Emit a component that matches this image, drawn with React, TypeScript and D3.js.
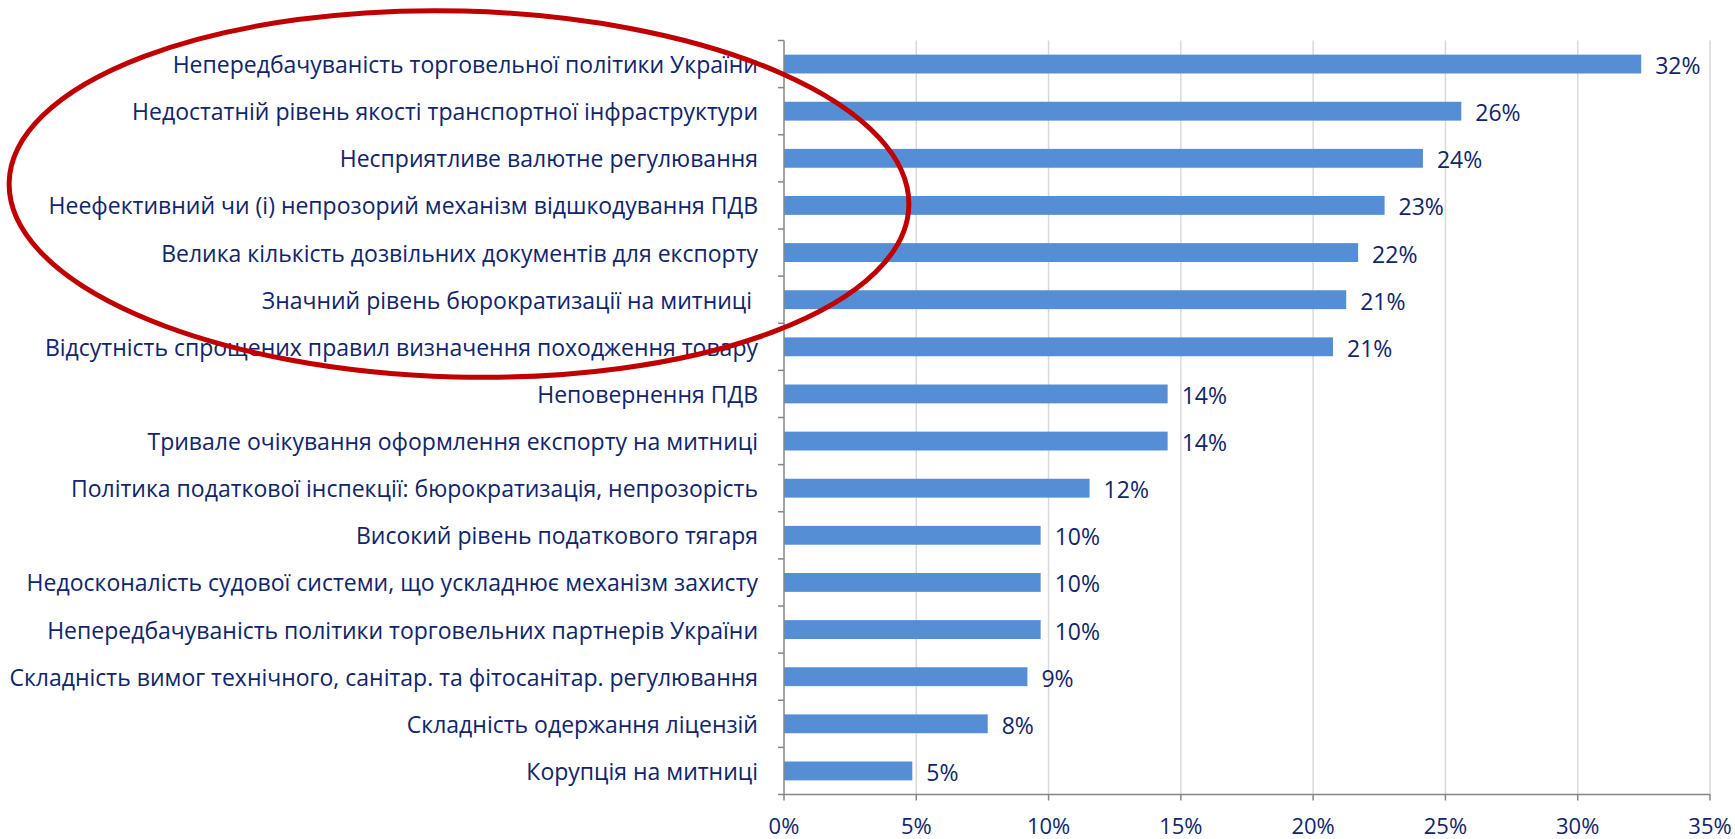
import React from "react";
import * as d3 from "d3";

const categories = [
  "Непередбачуваність торговельної політики України",
  "Недостатній рівень якості транспортної інфраструктури",
  "Несприятливе валютне регулювання",
  "Неефективний чи (і) непрозорий механізм відшкодування ПДВ",
  "Велика кількість дозвільних документів для експорту",
  "Значний рівень бюрократизації на митниці ",
  "Відсутність спрощених правил визначення походження товару",
  "Неповернення ПДВ",
  "Тривале очікування оформлення експорту на митниці",
  "Політика податкової інспекції: бюрократизація, непрозорість",
  "Високий рівень податкового тягаря",
  "Недосконаліcть судової системи, що ускладнює механізм захисту",
  "Непередбачуваність політики торговельних партнерів України",
  "Складність вимог технічного, санітар. та фітосанітар. регулювання",
  "Складність одержання ліцензій",
  "Корупція на митниці",
];

const values = [32.4, 25.6, 24.15, 22.7, 21.7, 21.25, 20.75, 14.5, 14.5, 11.55, 9.7, 9.7, 9.7, 9.2, 7.7, 4.85];

const valueLabels = ["32%", "26%", "24%", "23%", "22%", "21%", "21%", "14%", "14%", "12%", "10%", "10%", "10%", "9%", "8%", "5%"];

const xTicks = [0, 5, 10, 15, 20, 25, 30, 35];

const W = 1735;
const H = 839;
const TEXT = "#10256b";
const FONT = "'Liberation Sans Narrow', 'Open Sans', 'Noto Sans', sans-serif";

export default function App() {
  const x = d3.scaleLinear().domain([0, 35]).range([784, 1710]);
  const y = d3.scaleBand<string>().domain(categories).range([40.5, 794.5]).paddingInner(0.6).paddingOuter(0.3);
  const step = y.step();
  const top = 40.5;
  const bottom = 794.5;
  const boundaries = d3.range(categories.length + 1).map((i) => top + i * step);

  return (
    <svg width={W} height={H} style={{ position: "absolute", left: 0, top: 0, background: "#fff" }} fontFamily={FONT}>
      {xTicks.slice(1).map((t) => (
        <line key={"g" + t} x1={x(t)} x2={x(t)} y1={top} y2={bottom} stroke="#d9d9d9" strokeWidth={1.5} />
      ))}
      {values.map((v, i) => (
        <rect key={"b" + i} x={x(0)} y={y(categories[i])!} width={x(v) - x(0)} height={y.bandwidth()} fill="#558ed5" />
      ))}
      {values.map((v, i) => (
        <text key={"v" + i} x={x(v) + 14} y={y(categories[i])! + y.bandwidth() / 2 + 1} dominantBaseline="central" fontSize={23} fill={TEXT}>
          {valueLabels[i]}
        </text>
      ))}
      {categories.map((c, i) => (
        <text key={"c" + i} x={758} y={y(c)! + y.bandwidth() / 2} dominantBaseline="central" textAnchor="end" fontSize={23} fill={TEXT} style={{ whiteSpace: "pre" }}>
          {c}
        </text>
      ))}
      <line x1={x(0)} x2={x(0)} y1={top} y2={bottom} stroke="#868686" strokeWidth={1.5} />
      {boundaries.map((b, i) => (
        <line key={"yt" + i} x1={x(0) - 6} x2={x(0)} y1={b} y2={b} stroke="#868686" strokeWidth={1.5} />
      ))}
      <line x1={x(0)} x2={x(35)} y1={bottom} y2={bottom} stroke="#868686" strokeWidth={1.5} />
      {xTicks.map((t) => (
        <g key={"xt" + t}>
          <line x1={x(t)} x2={x(t)} y1={bottom} y2={bottom + 6} stroke="#868686" strokeWidth={1.5} />
          <text x={x(t)} y={825} textAnchor="middle" dominantBaseline="central" fontSize={22} fill={TEXT}>
            {t + "%"}
          </text>
        </g>
      ))}
      <ellipse cx={459} cy={194} rx={450} ry={183} transform="rotate(1.5 459 194)" fill="none" stroke="#c00000" strokeWidth={5} />
    </svg>
  );
}
